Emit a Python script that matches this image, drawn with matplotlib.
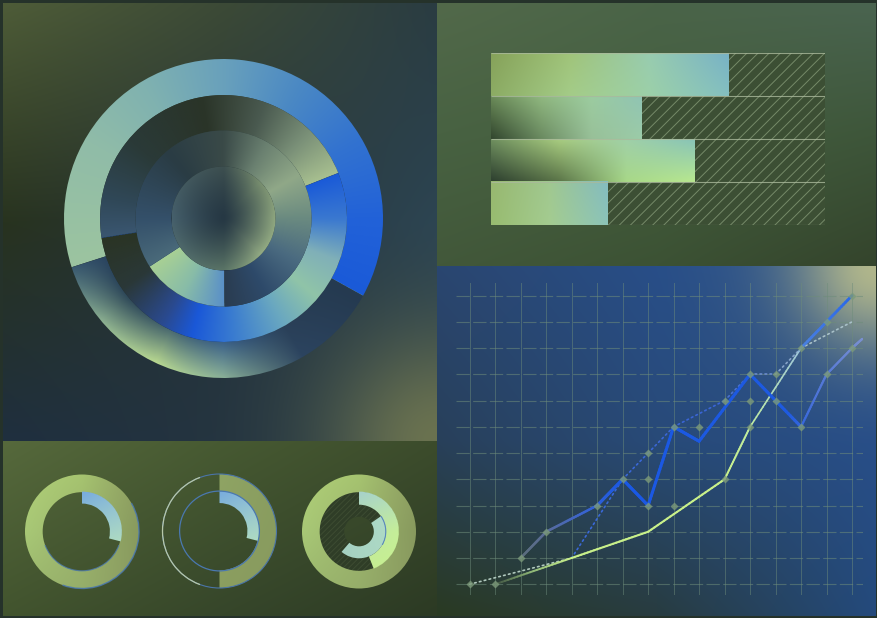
import numpy as np
import matplotlib
matplotlib.use("Agg")
import matplotlib.pyplot as plt
from matplotlib.patches import Wedge, Arc, Circle
from matplotlib.collections import LineCollection
from matplotlib.colors import to_rgb

W, H = 878, 618

# big donut, shares in % (rings from outside in) and start angle of first share
outer_ring = [63, 37]
middle_ring = [46.5, 53.5]
inner_ring = [16, 84]
ring_starts = [331, 21.6, 213]

# horizontal bars
bar_values = [71, 45, 61, 35]
bar_max = 100

# small donuts: outer ring %, arc %, inner arc % (last one only)
small_ring = [100, 50, 100]
small_arc = [29, 29, 44]
small_inner = [0, 0, 46]

# line chart (grid columns / rows)
grid_cols = 16
grid_rows = 12
blue_x = [2, 3, 5, 6, 7, 8, 9, 11, 13, 14, 15, 15.4]
blue_y = [1, 2, 3, 4, 3, 6, 5.45, 8, 6, 8, 9, 9.35]
green_x = [1, 4, 7, 10, 11, 13, 15]
green_y = [0, 1, 2, 4, 6, 9, 11]
dot_x = [0, 4, 6, 7, 8, 10, 11, 12, 13, 15]
dot_y = [0, 1, 4, 5, 6, 7, 8, 8, 9, 10]
pts_x = [0, 1, 2, 3, 5, 6, 7, 7, 7, 8, 8, 9, 10, 10, 11, 11, 11, 12, 12, 13, 13, 14, 14, 15, 15]
pts_y = [0, 0, 1, 2, 3, 4, 3, 4, 5, 6, 3, 6, 7, 4, 8, 7, 6, 8, 7, 9, 6, 10, 8, 11, 9]


def rgb(cs):
    return np.array([to_rgb(c) for c in cs])


def blend(t, pos, cols):
    c = rgb(cols)
    return np.stack([np.interp(t, pos, c[:, k]) for k in range(3)], -1)


def upsample(grid, h, w):
    g = np.array([rgb(row) for row in grid])
    k, m = g.shape[:2]
    fy = np.linspace(0, k - 1, h)
    fx = np.linspace(0, m - 1, w)
    y0 = np.minimum(fy.astype(int), k - 2)
    x0 = np.minimum(fx.astype(int), m - 2)
    ty = (fy - y0)[:, None, None]
    tx = (fx - x0)[None, :, None]
    a = g[y0][:, x0]
    b = g[y0][:, x0 + 1]
    c = g[y0 + 1][:, x0]
    d = g[y0 + 1][:, x0 + 1]
    return (a * (1 - tx) + b * tx) * (1 - ty) + (c * (1 - tx) + d * tx) * ty


fig = plt.figure(figsize=(W / 100, H / 100), dpi=100)
fig.patch.set_facecolor('#25322a')


def px_axes(x0, y0, x1, y1, z=1):
    ax = fig.add_axes([x0 / W, 1 - y1 / H, (x1 - x0) / W, (y1 - y0) / H], zorder=z)
    ax.set_axis_off()
    ax.patch.set_alpha(0)
    return ax


def bg_panel(x0, y0, x1, y1, grid, glow=None):
    ax = px_axes(x0, y0, x1, y1, z=0)
    h, w = y1 - y0, x1 - x0
    img = upsample(grid, h, w)
    if glow:
        gx, gy, rad, col = glow
        yy, xx = np.mgrid[0:h, 0:w]
        wt = np.exp(-((xx - gx) ** 2 + (yy - gy) ** 2) / rad ** 2)[..., None]
        img = img * (1 - wt) + rgb([col])[0] * wt
    ax.imshow(img, extent=(0, 1, 0, 1), aspect='auto', interpolation='bilinear')
    ax.set_xlim(0, 1)
    ax.set_ylim(0, 1)


# panel backgrounds
bg_panel(3, 3, 437, 441, [['#4e5c38', '#3c4a36', '#2a3c42'],
                          ['#28331f', '#26343a', '#2c4452'],
                          ['#1f2f3f', '#243440', '#2c4048']],
         glow=(434, 438, 110, '#6a7250'))
bg_panel(3, 441, 437, 616, [['#56693c', '#475a32', '#3c4c2c'],
                            ['#42542e', '#36462a', '#2c3a24']])
bg_panel(437, 3, 876, 266, [['#52694a', '#4a6448', '#4a6450'],
                            ['#486242', '#445e3e', '#3e563a'],
                            ['#42583a', '#3c5234', '#34442c']])
bg_panel(437, 266, 876, 616, [['#2a4670', '#284e88', '#3a5e8a'],
                              ['#28405a', '#284a78', '#284e88'],
                              ['#2a3a22', '#283c40', '#244a7c']],
         glow=(439, 0, 80, '#b0b68c'))


# ---------------- big donut ----------------
def conic(ax, r0, r1, a0, span, pos, c_out, c_in=None, gamma=1.0, z=2):
    n = 500
    xs = np.linspace(-r1, r1, n)
    X, Y = np.meshgrid(xs, xs)
    t = np.clip(((np.degrees(np.arctan2(Y, X)) - a0) % 360) / span, 0, 1)
    img = blend(t, pos, c_out)
    if c_in is not None:
        rho = np.clip((np.hypot(X, Y) - r0) / (r1 - r0), 0, 1)[..., None] ** gamma
        img = blend(t, pos, c_in) * (1 - rho) + img * rho
    im = ax.imshow(img, extent=(-r1, r1, -r1, r1), origin='lower',
                   interpolation='bilinear', zorder=z)
    clip = Wedge((0, 0), r1, a0, a0 + span, width=(r1 - r0) if r0 > 0 else None,
                 transform=ax.transData)
    im.set_clip_path(clip)


def segs(shares, start):
    spans = [s / 100 * 360 for s in shares]
    starts = start + np.concatenate([[0], np.cumsum(spans[:-1])])
    return list(zip(starts, spans))


big = px_axes(53, 48, 394, 389)
radii = [1.0, 0.774, 0.552, 0.326]

(a0, s0), (a1, s1) = segs(outer_ring, ring_starts[0])
conic(big, radii[1], radii[0], a0, s0, [0, .13, .26, .39, .52, .66, .79, 1],
      ['#1a5ad8', '#2262d8', '#3272d0', '#4a88c4', '#68a0bc', '#80b2b0', '#90bca8', '#9cc4a0'])
conic(big, radii[1], radii[0], a1, s1, [0, .165, .353, .54, .766, 1],
      ['#3a5a70', '#8aae90', '#b8d890', '#8ab098', '#2c4460', '#253a50'],
      ['#2a4460', '#2e4858', '#4a6a70', '#3a6088', '#2a4058', '#253a50'])

(a0, s0), (a1, s1) = segs(middle_ring, ring_starts[1])
conic(big, radii[2], radii[1], a0, s0, [0, .14, .29, .47, .71, .89, 1],
      ['#a8c090', '#7a9078', '#4a5a50', '#2a3428', '#2a3a38', '#304858', '#3a5670'])
conic(big, radii[2], radii[1], a1, s1, [0, .135, .265, .343, .447, .576, .68, .784, .888, 1],
      ['#2a3424', '#2a3838', '#2a4a90', '#1a58d8', '#3a7cd0', '#6aa8c0', '#90c4a8',
       '#80b0b8', '#3a78d0', '#1a5ad8'])

(a0, s0), (a1, s1) = segs(inner_ring, ring_starts[2])
conic(big, radii[3], radii[2], a0, s0, [0, .5, 1], ['#a8d094', '#88bca8', '#5a90c8'])
conic(big, radii[3], radii[2], a1, s1, [0, .097, .196, .296, .395, .494, .593, .726, .891, 1],
      ['#2a3c50', '#2e4a6a', '#4a6a80', '#6a8a80', '#90a888', '#6a8070', '#3a4a48',
       '#2a3c44', '#34506a', '#4a6a7a'])

conic(big, 0, radii[3], 0, 360, [0, .125, .25, .5, .75, .875, 1],
      ['#90a880', '#7a9070', '#3e5050', '#46606c', '#5a7466', '#94ac84', '#90a880'],
      ['#263844'] * 7, gamma=1.3)
big.set_aspect('auto')
lim = 170.5 / 159.5
big.set_xlim(-lim, lim)
big.set_ylim(-lim, lim)


# ---------------- bars ----------------
bars_ax = px_axes(491, 53, 825, 225)
bars = bars_ax.barh(range(len(bar_values)), bar_values, height=1.0, color='none', lw=0)
bar_grids = [
    [['#86a25a', '#a0c47a', '#98ccb0', '#78b2c6'],
     ['#8cac64', '#a4cc88', '#9cd0a8', '#84c0c0']],
    [['#6a8a58', '#90b880', '#9ccca0', '#90c4b4'],
     ['#32462e', '#6a8a60', '#98c098', '#9ccca8']],
    [['#6e8e5e', '#a8cc80', '#a0d0a8', '#88c4b8'],
     ['#2c3e2e', '#5a7448', '#a8d888', '#b8e890']],
    [['#98b870', '#a0c890', '#84bcc0'],
     ['#98bc70', '#a4cc90', '#8cc4b8']],
]
for rect, grid in zip(bars, bar_grids):
    x, y, w, h = rect.get_x(), rect.get_y(), rect.get_width(), rect.get_height()
    img = upsample(grid, 60, 240)
    bars_ax.imshow(img, extent=(x, x + w, y + h, y), aspect='auto',
                   interpolation='bilinear', zorder=2)
plt.rcParams['hatch.linewidth'] = 0.7
bars_ax.barh(range(len(bar_values)), [bar_max - v for v in bar_values], left=bar_values,
             height=1.0, facecolor='#3c4f34', edgecolor='#758a68', hatch='///', lw=0, zorder=1)
bars_ax.hlines(np.arange(len(bar_values) + 1) - 0.5, 0, bar_max, colors='#aab99c',
               lw=0.8, alpha=0.8, zorder=3)
bars_ax.set_xlim(0, bar_max)
bars_ax.set_ylim(len(bar_values) - 0.5, -0.5)


# ---------------- small donuts ----------------
def grid_wedge(ax, r0, r1, t1, t2, grid, extent, z=2):
    clip = Wedge((0, 0), r1, t1, t2, width=(r1 - r0) if r0 > 0 else None,
                 transform=ax.transData)
    img = upsample(grid, 160, 160)
    im = ax.imshow(img, extent=extent, aspect='auto', interpolation='bilinear', zorder=z)
    im.set_clip_path(clip)


ring_grid_a = [['#b0d078', '#a6c470', '#8e9e62'],
               ['#a8c876', '#9cb46c', '#889a5e'],
               ['#9cb86e', '#96ae6a', '#8a9a60']]
ring_grid_b = [['#94aa68', '#8a9e60'],
               ['#8ea262', '#889a5e']]
arc_grid = [['#76aade', '#8cbcd8'],
            ['#a8d8c6', '#b2dec0']]

centers = [(82, 531.5), (219.5, 531), (359, 531.5)]
R = 57
half = 64
for i, (cx, cy) in enumerate(centers):
    ax = px_axes(cx - half, cy - half, cx + half, cy + half)
    ring_t1 = 90 - small_ring[i] * 3.6
    if i == 2:
        ax.add_patch(Wedge((0, 0), 0.7, 0, 360, width=0.44, facecolor='#2f3d27',
                           edgecolor='#3d4c32', hatch='//////', lw=0, zorder=1))
    grid_wedge(ax, 0.69, 1.0, ring_t1, 90, ring_grid_b if i == 1 else ring_grid_a,
               (-1, 1, -1, 1))
    arc_t1 = 90 - small_arc[i] * 3.6
    if i < 2:
        grid_wedge(ax, 0.49, 0.70, arc_t1, 90, arc_grid, (0, 0.72, -0.25, 0.72), z=3)
    else:
        grid_wedge(ax, 0.47, 0.70, arc_t1, 90,
                   [['#a6d0cc', '#b0dcc0'], ['#bce6a4', '#c6ee98'], ['#c8f090', '#c8f090']],
                   (0, 0.72, -0.72, 0.72), z=3)
        in_t1 = 35 - small_inner[i] * 3.6
        grid_wedge(ax, 0.26, 0.47, in_t1, 35,
                   [['#a0ccc4', '#b0dcc8'], ['#a4d0c0', '#acd8c4']],
                   (-0.5, 0.5, -0.5, 0.5), z=3)
        ax.add_patch(Arc((0, 0), 0.94, 0.94, theta1=-30, theta2=35, color='#5a88c0',
                         lw=0.8, zorder=4))
    if i == 0:
        ax.add_patch(Arc((0, 0), 2.0, 2.0, theta1=250, theta2=30, color='#4a78b0',
                         lw=1.0, alpha=0.85, zorder=4))
        ax.add_patch(Arc((0, 0), 1.38, 1.38, theta1=200, theta2=340, color='#4a78b0',
                         lw=0.8, alpha=0.8, zorder=4))
    if i == 1:
        ax.add_patch(Circle((0, 0), 1.0, fill=False, ec='#4a74a8', lw=0.8, zorder=4))
        ax.add_patch(Arc((0, 0), 2.0, 2.0, theta1=110, theta2=250, color='#b8c8a8',
                         lw=0.9, zorder=4))
        ax.add_patch(Circle((0, 0), 0.7, fill=False, ec='#4a78b0', lw=0.9, zorder=4))
    lim = half / R
    ax.set_aspect('auto')
    ax.set_xlim(-lim, lim)
    ax.set_ylim(-lim, lim)


# ---------------- line chart ----------------
lc_ax = fig.add_axes([456 / W, 1 - 595 / H, (863 - 456) / W, (595 - 283) / H], zorder=1)
lc_ax.patch.set_alpha(0)
for s in lc_ax.spines.values():
    s.set_visible(False)
lc_ax.set_xticks(range(grid_cols))
lc_ax.set_yticks(range(grid_rows))
lc_ax.tick_params(length=0, labelbottom=False, labelleft=False)
lc_ax.xaxis.grid(True, color='#6e8c7a', lw=0.7, alpha=0.5)
lc_ax.yaxis.grid(True, color='#6e8c7a', lw=0.8, alpha=0.55, linestyle=(0, (12, 3)))
lc_ax.set_axisbelow(True)


def color_fn(pos, cols):
    c = rgb(cols)
    return lambda x: tuple(np.interp(x, pos, c[:, k]) for k in range(3))


def grad_line(ax, xs, ys, pos, cols, lws, n=24, z=3):
    f = color_fn(pos, cols)
    lines, cs, ws = [], [], []
    for i in range(len(xs) - 1):
        t = np.linspace(0, 1, n + 1)
        px = xs[i] + (xs[i + 1] - xs[i]) * t
        py = ys[i] + (ys[i + 1] - ys[i]) * t
        for j in range(n):
            lines.append([(px[j], py[j]), (px[j + 1], py[j + 1])])
            cs.append(f((px[j] + px[j + 1]) / 2))
            ws.append(lws[i])
    ax.add_collection(LineCollection(lines, colors=cs, linewidths=ws,
                                     capstyle='round', zorder=z))


# dotted series
fdot = color_fn([0, 3.5, 4.5, 10, 12, 14], ['#b0c8b8', '#b0c8c0', '#3a6ad8', '#3a64d4', '#7a98c8', '#a8c0c8'])
for i in range(len(dot_x) - 1):
    lc_ax.plot(dot_x[i:i + 2], dot_y[i:i + 2], ls=(0, (1, 2)), lw=1.2,
               color=fdot((dot_x[i] + dot_x[i + 1]) / 2), dash_capstyle='round', zorder=2)

grad_line(lc_ax, green_x, green_y,
          [1, 2.5, 4, 10, 11, 12.9, 13.1, 15],
          ['#3c5040', '#90b878', '#c8f08a', '#c8f08a', '#c0eca0', '#a0c8d8', '#4a80e0', '#2a68e8'],
          [1.4, 1.5, 1.5, 1.4, 1.2, 2.0])
grad_line(lc_ax, blue_x, blue_y,
          [2, 3, 4.5, 6, 12.5, 13.5, 15.4],
          ['#5a6c78', '#5a6c98', '#3a64d0', '#1a58e4', '#1e5ae0', '#4a72d8', '#7a90d0'],
          [1.8, 1.8, 2.2, 2.2, 2.2, 2.2, 2.2, 2.2, 1.6, 1.6, 1.6])
lc_ax.plot(pts_x, pts_y, 'D', ms=3.6, color='#7c9a7a', alpha=0.8, mec='none', zorder=4)

lc_ax.set_xlim(-0.537, 15.43)
lc_ax.set_ylim(-0.41, 11.48)

fig.savefig('out.png', dpi=100, facecolor=fig.get_facecolor())
